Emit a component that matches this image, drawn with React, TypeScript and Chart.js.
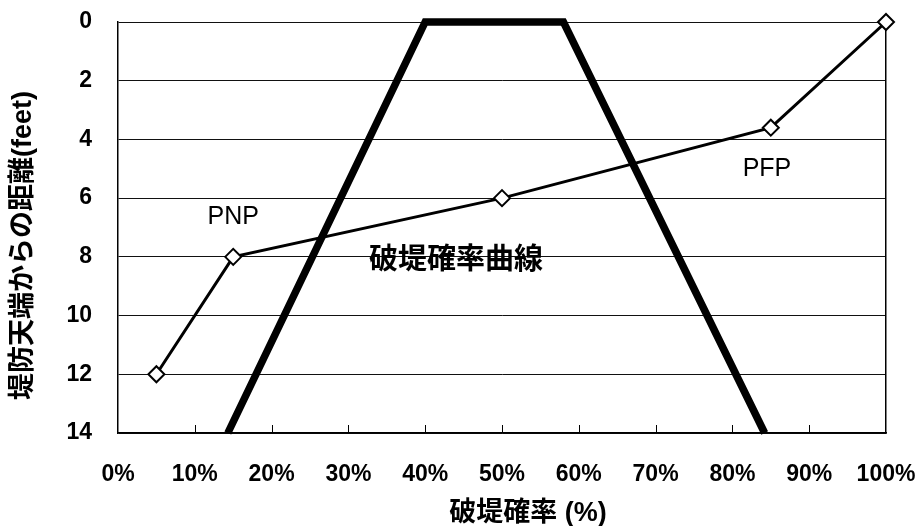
import { useEffect, useRef } from 'react';
import { Chart, registerables } from 'chart.js';

Chart.register(...registerables);

// ---- data ----
const probabilityPoints = [5, 15, 50, 85, 100];
const distancePoints = [12, 8, 6, 3.6, 0];

const curveProbability = [14.3, 40, 58, 84.2];
const curveDistance = [14, 0, 0, 14];

const annotationTexts = ['PNP', 'PFP', '破堤確率曲線'];
const annotationX = [15, 84.5, 44];
const annotationY = [6.65, 5.0, 8.05];

const xAxisTitle = '破堤確率 (%)';
const yAxisTitle = '堤防天端からの距離(feet)';

const xTickMin = 0;
const xTickMax = 100;
const xTickStep = 10;
const yTickMin = 0;
const yTickMax = 14;
const yTickStep = 2;

const LATIN = '"Liberation Sans", Arial, "Noto Sans CJK JP", sans-serif';
const CJK = '"Noto Sans CJK JP", "Liberation Sans", sans-serif';
const annotationFonts = [`25px ${LATIN}`, `25px ${LATIN}`, `bold 29px ${CJK}`];

const overlayPlugin = {
  id: 'overlay',
  afterDraw(chart: any) {
    const { ctx, chartArea, scales } = chart;
    const xs = scales.x;
    const ys = scales.y;
    ctx.save();
    // inward tick marks on the x axis
    ctx.strokeStyle = '#000';
    ctx.lineWidth = 1;
    xs.ticks.forEach((t: any) => {
      if (t.value <= xs.min || t.value >= xs.max) return;
      const px = Math.round(xs.getPixelForValue(t.value)) + 0.5;
      ctx.beginPath();
      ctx.moveTo(px, chartArea.bottom);
      ctx.lineTo(px, chartArea.bottom - 8);
      ctx.stroke();
    });
    // annotations
    ctx.fillStyle = '#000';
    ctx.textAlign = 'center';
    ctx.textBaseline = 'middle';
    annotationTexts.forEach((txt, i) => {
      ctx.font = annotationFonts[i];
      ctx.fillText(txt, xs.getPixelForValue(annotationX[i]), ys.getPixelForValue(annotationY[i]));
    });
    // axis titles
    ctx.font = `bold 27px ${LATIN}`;
    ctx.fillText(xAxisTitle, (chartArea.left + chartArea.right) / 2 + 26, chart.height - 12);
    ctx.save();
    ctx.translate(24, (chartArea.top + chartArea.bottom) / 2 + 18);
    ctx.rotate(-Math.PI / 2);
    ctx.font = `bold 27px ${LATIN}`;
    ctx.fillText(yAxisTitle, 0, 0);
    ctx.restore();
    ctx.restore();
  },
};

const noPad = (s: any) => {
  s.paddingTop = 0;
  s.paddingBottom = 0;
  s.paddingLeft = 0;
  s.paddingRight = 0;
};

export default function App() {
  const canvasRef = useRef<HTMLCanvasElement | null>(null);

  useEffect(() => {
    if (!canvasRef.current) return;
    Chart.defaults.font.family = LATIN;
    const chart = new Chart(canvasRef.current, {
      type: 'line',
      data: {
        datasets: [
          {
            label: 'curve',
            data: curveProbability.map((x, i) => ({ x, y: curveDistance[i] })),
            borderColor: '#000',
            borderWidth: 7.5,
            pointRadius: 0,
            borderJoinStyle: 'miter',
            tension: 0,
            clip: false as any,
          },
          {
            label: 'points',
            data: probabilityPoints.map((x, i) => ({ x, y: distancePoints[i] })),
            borderColor: '#000',
            borderWidth: 3,
            pointStyle: 'rectRot',
            pointRadius: 8,
            pointBorderWidth: 2,
            pointBackgroundColor: '#fff',
            pointBorderColor: '#000',
            tension: 0,
            clip: false as any,
          },
        ],
      },
      options: {
        animation: false,
        responsive: false,
        layout: { padding: { top: 22, right: 33, left: 0, bottom: 0 } },
        plugins: {
          legend: { display: false },
          tooltip: { enabled: false },
        },
        scales: {
          x: {
            type: 'linear',
            min: xTickMin,
            max: xTickMax,
            ticks: {
              stepSize: xTickStep,
              color: '#000',
              padding: 28,
              font: { size: 23, weight: 'bold' },
              callback: (v: any) => `${v}%`,
            },
            grid: { display: false, drawTicks: false },
            border: { display: true, color: '#000', width: 1.5 },
            afterFit: (s: any) => {
              s.height = 93;
              noPad(s);
            },
          },
          y: {
            type: 'linear',
            reverse: true,
            min: yTickMin,
            max: yTickMax,
            ticks: {
              stepSize: yTickStep,
              color: '#000',
              padding: 26,
              font: { size: 23, weight: 'bold' },
            },
            grid: { color: '#111', lineWidth: 1, drawTicks: false },
            border: { display: true, color: '#000', width: 1.5 },
            afterFit: (s: any) => {
              s.width = 118;
              noPad(s);
            },
          },
          y2: {
            type: 'linear',
            position: 'right',
            ticks: { display: false },
            grid: { display: false, drawTicks: false },
            border: { display: true, color: '#000', width: 1.5 },
            afterFit: (s: any) => {
              s.width = 0;
              noPad(s);
            },
          },
        },
      },
      plugins: [overlayPlugin],
    } as any);
    return () => chart.destroy();
  }, []);

  return (
    <div style={{ position: 'fixed', left: 0, top: 0, width: 919, height: 526, background: '#fff' }}>
      <canvas ref={canvasRef} width={919} height={526} style={{ display: 'block' }} />
    </div>
  );
}
